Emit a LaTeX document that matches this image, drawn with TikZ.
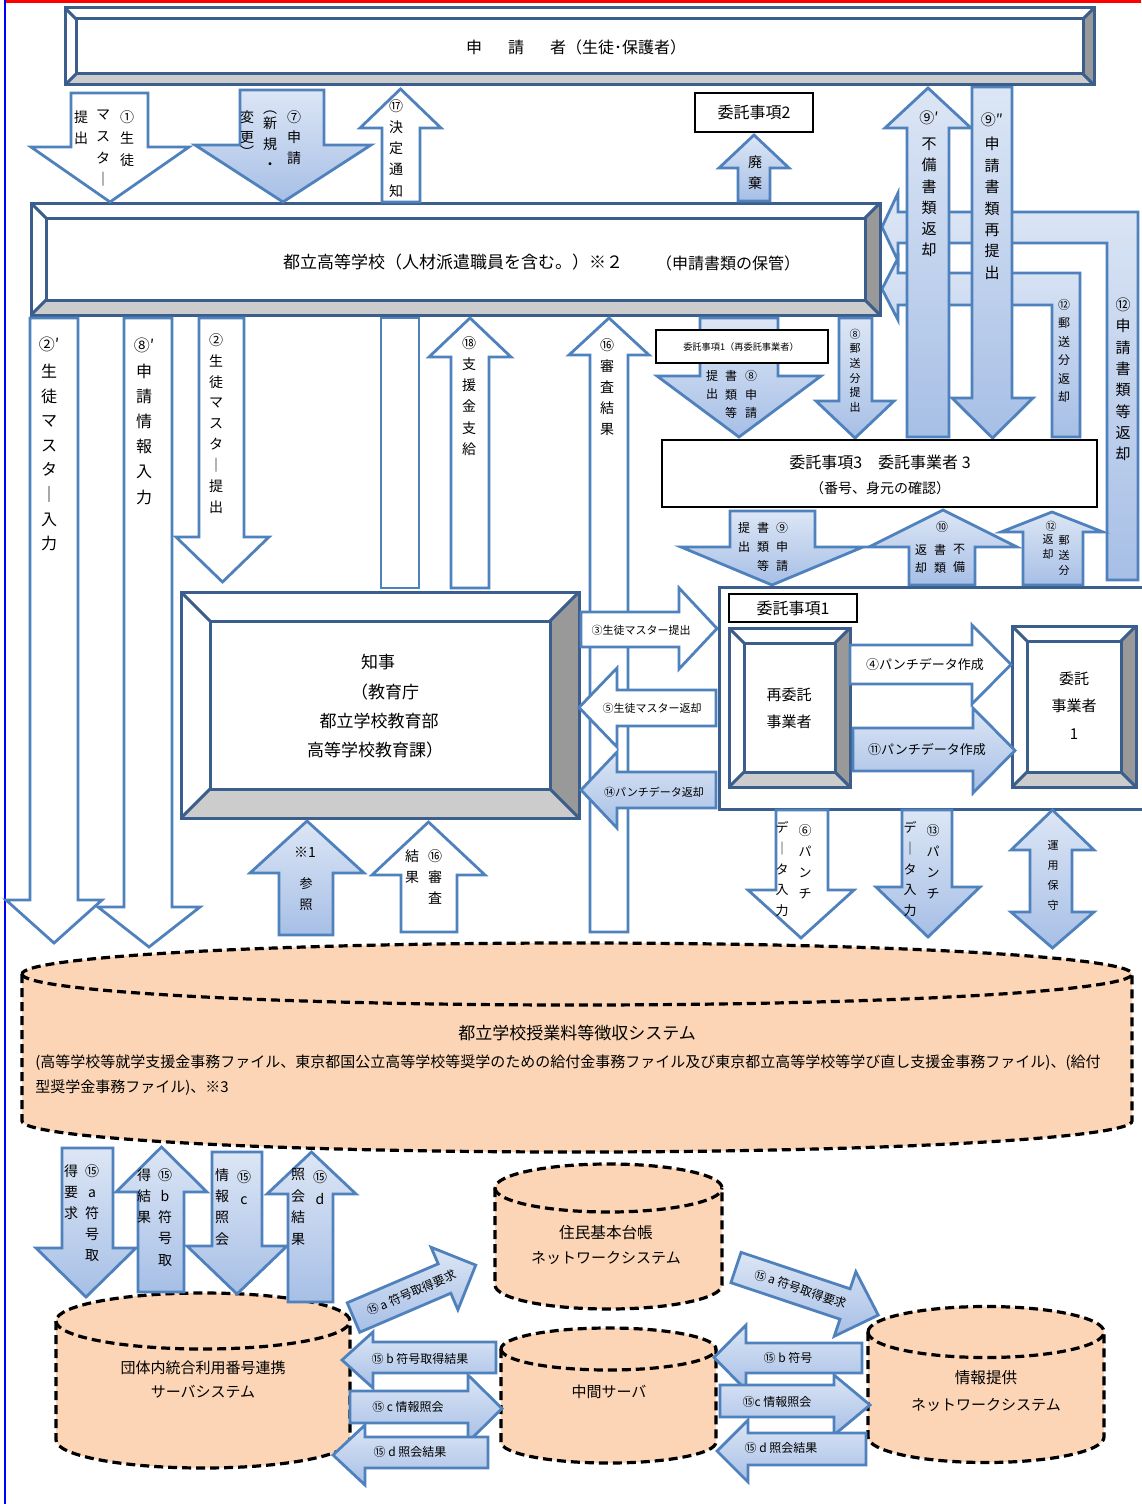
\documentclass[tikz,border=0pt]{standalone}
\usepackage{fontspec}
\setmainfont{Noto Sans CJK JP}
\definecolor{ablue}{HTML}{4F81BD}
\definecolor{bvline}{HTML}{3B5E8C}
\definecolor{bvdark}{HTML}{999999}
\definecolor{bvlight}{HTML}{CCCCCC}
\definecolor{gl}{HTML}{DCE6F5}
\definecolor{gd}{HTML}{A7BFE6}
\definecolor{peach}{HTML}{FBD5B5}
\newcounter{nd}
\newcommand{\myfs}[2]{\fontsize{#1}{#2}\selectfont}
\newcommand{\mvc}[5]{\stepcounter{nd}\node[vcol,font=\myfs{#3}{#4}] (v\arabic{nd}) at (#1,{#2-#3}) {#5};}
\newcommand{\mtx}[4]{\stepcounter{nd}\node[txt,font=\myfs{#3}{#3}] (t\arabic{nd}) at (#1,#2) {#4};}
% vertical block arrow: style, xL, xR, yTail, yHeadBase, hL, hR, yTip
\newcommand{\varrow}[8]{\path[#1] (#2,#4) -- (#2,#5) -- (#6,#5) -- ({(#6+#7)/2},#8) -- (#7,#5) -- (#3,#5) -- (#3,#4) -- cycle;}
% horizontal block arrow: style, yT, yB, xTail, xHeadBase, hT, hB, xTip
\newcommand{\harrow}[8]{\path[#1] (#4,#2) -- (#5,#2) -- (#5,#6) -- (#8,{(#6+#7)/2}) -- (#5,#7) -- (#5,#3) -- (#4,#3) -- cycle;}
% bevel box: x1 y1 x2 y2 inset
\newcommand{\bevel}[5]{%
 \fill[white] (#1,#2) rectangle (#3,#4);
 \fill[bvdark] (#3,#2) -- (#3,#4) -- ({#3-#5},{#4-#5}) -- ({#3-#5},{#2+#5}) -- cycle;
 \fill[bvlight] (#1,#4) -- (#3,#4) -- ({#3-#5},{#4-#5}) -- ({#1+#5},{#4-#5}) -- cycle;
 \draw[bvl] (#1,#2) rectangle (#3,#4);
 \draw[bvl] ({#1+#5},{#2+#5}) rectangle ({#3-#5},{#4-#5});
 \draw[bvl] (#1,#2) -- ({#1+#5},{#2+#5}) (#3,#2) -- ({#3-#5},{#2+#5})
   (#1,#4) -- ({#1+#5},{#4-#5}) (#3,#4) -- ({#3-#5},{#4-#5});}
% cylinder: xL xR yTopCenter yBottomCenter R(pt) r(pt)
\newcommand{\cyl}[6]{%
 \path[dbs] (#1,#3) -- (#1,#4) arc[start angle=180,end angle=360,x radius=#5pt,y radius=#6pt]
   -- (#2,#3) arc[start angle=0,end angle=180,x radius=#5pt,y radius=#6pt] -- cycle;
 \draw[dbl] (#1,#3) arc[start angle=180,end angle=360,x radius=#5pt,y radius=#6pt];}
\tikzset{
 vcol/.style={anchor=north,inner sep=0pt,align=center},
 txt/.style={inner sep=0pt,align=center},
 wa/.style={draw=ablue,line width=1.4pt,fill=white},
 ga/.style={draw=ablue,line width=1.4pt,top color=gl,bottom color=gd},
 bvl/.style={draw=bvline,line width=1.5pt,line join=miter},
 bbox/.style={draw=black,line width=1.3pt,fill=white},
 dbs/.style={fill=peach,draw=black,line width=1.6pt,dash pattern=on 4.5pt off 2.5pt},
 dbl/.style={draw=black,line width=1.6pt,dash pattern=on 4.5pt off 2.5pt},
}
\begin{document}
\begin{tikzpicture}[x=0.5pt,y=-0.5pt]
\useasboundingbox (0,0) rectangle (1141,1504);
\fill[white] (0,0) rectangle (1141,1504);
% page frame
\draw[red,line width=1.6pt] (5,1.5) -- (1141,1.5);
\draw[blue,line width=1.3pt] (5,0) -- (5,1504);

% databases
\cyl{22}{1132}{974}{1121}{277.5}{15.5}
\cyl{56}{350}{1321}{1440}{73.5}{14}
\cyl{495}{722}{1188}{1285}{56.75}{12}
\cyl{501}{716}{1349}{1442}{53.75}{10.5}
\cyl{868}{1104}{1332}{1437}{59}{12.75}

% return bands (12)
\path[ga] (1138,580) -- (1138,212) -- (898,212) -- (898,193) -- (882,227) -- (898,261) -- (898,243) -- (1107,243) -- (1107,580) -- cycle;
\path[ga] (1080,437) -- (1080,273) -- (898,273) -- (898,258) -- (882,289) -- (898,320) -- (898,305) -- (1052,305) -- (1052,437) -- cycle;
% 9' and 9''
\varrow{ga}{907}{949}{437}{128}{885}{971}{88}
\varrow{ga}{972}{1012}{87}{398}{952}{1033}{438}

% top box and school box
\bevel{65}{8}{1094}{85}{11}
\bevel{31}{203}{880}{315}{15}

% arrows between applicant and school
\varrow{wa}{71}{148}{93}{147}{31}{189}{202}
\varrow{ga}{240}{324}{90}{145}{195}{371}{202}
\varrow{wa}{382}{420}{202}{128}{360}{441}{89}
\varrow{ga}{738}{770}{201}{168}{719}{789}{135}
\draw[bbox] (695,93) rectangle (813,132);

% school -> below
\varrow{wa}{30}{78}{318}{900}{6}{102}{943}
\varrow{wa}{124}{172}{318}{907}{98}{200}{947}
\varrow{wa}{199}{244}{318}{537}{176}{269}{582}
\path[wa] (381,318) rectangle (419,588);
\varrow{wa}{451}{489}{588}{357}{429}{511}{318}
\varrow{wa}{590}{628}{932}{355}{569}{649}{318}
\varrow{ga}{700}{778}{318}{376}{657}{821}{437}
\draw[bbox,line width=1.1pt] (656,330) rectangle (828,363);
\varrow{ga}{839}{872}{318}{401}{816}{894}{438}

% entrust 3
\draw[bbox] (662,440) rectangle (1097,507);
\varrow{ga}{730}{815}{511}{547}{681}{863}{585}
\varrow{ga}{909}{975}{585}{547}{869}{1017}{510}
\varrow{ga}{1023}{1083}{585}{532}{1001}{1103}{512}

% governor box
\bevel{181}{592}{579}{818}{29}

% horizontal arrows between governor and entrust 1
\harrow{wa}{612}{647}{581}{679}{588}{669}{717}
\harrow{wa}{690}{726}{716}{617}{668}{747}{579}
\harrow{ga}{772}{808}{716}{617}{752}{828}{581}

% entrust 1 group
\draw[draw=bvline,line width=1.5pt] (1150,587) -- (719,587) -- (719,809) -- (1150,809);
\draw[bbox] (729,594) rectangle (857,622);
\bevel{729}{628}{850}{787}{15}
\bevel{1012}{626}{1136}{787}{15}
\harrow{wa}{645}{684}{850}{972}{625}{704}{1011}
\harrow{ga}{728}{771}{853}{973}{708}{793}{1015}

% below entrust 1
\varrow{wa}{776}{828}{810}{890}{748}{854}{938}
\varrow{ga}{902}{952}{810}{887}{876}{980}{937}
\path[ga] (1030,850) -- (1011,850) -- (1052.5,810) -- (1094,850) -- (1072,850) -- (1072,912) -- (1094,912) -- (1052.5,948) -- (1011,912) -- (1030,912) -- cycle;

% below governor
\varrow{ga}{279}{333}{935}{873}{250}{364}{821}
\varrow{wa}{401}{457}{932}{875}{372}{485}{822}

% (15) arrows
\varrow{ga}{62}{113}{1148}{1248}{36}{136}{1297}
\varrow{ga}{138}{184}{1292}{1192}{116}{207}{1147}
\varrow{ga}{212}{262}{1152}{1246}{187}{287}{1294}
\varrow{ga}{288}{333}{1302}{1194}{267}{356}{1152}
\harrow{ga}{1342}{1373}{496}{373}{1332}{1388}{342}
\harrow{ga}{1391}{1423}{350}{468}{1375}{1442}{502}
\harrow{ga}{1437}{1468}{488}{365}{1425}{1485}{333}
\harrow{ga}{1343}{1373}{862}{746}{1325}{1390}{714}
\harrow{ga}{1385}{1417}{720}{834}{1375}{1435}{870}
\harrow{ga}{1433}{1465}{866}{748}{1420}{1482}{717}
\begin{scope}[shift={(353.5,1317.5)},rotate=23.2]
\harrow{ga}{-16}{16}{0}{99}{-34}{34}{133}
\node[txt,font=\myfs{6}{6},rotate=23.2] (d1) at (63,0) {⑮ a 符号取得要求};
\end{scope}
\begin{scope}[shift={(736,1267.5)},rotate=-18.5]
\harrow{ga}{-16}{16}{0}{115}{-34}{34}{150}
\node[txt,font=\myfs{6}{6},rotate=-18.5] (d2) at (68,0) {⑮ a 符号取得要求};
\end{scope}

% ---------- texts ----------
\mtx{576}{47}{8}{申\hspace{13pt}請\hspace{13pt}者（生徒･保護者）}
\mtx{453}{262}{8.5}{都立高等学校（人材派遣職員を含む。）※２}
\mtx{728}{263}{8}{（申請書類の保管）}
\mtx{754}{112}{8}{委託事項2}
% 1
\mvc{127}{117}{7}{10.8}{①\\生\\徒}
\mvc{103}{117}{7}{10.8}{マ\\ス\\タ\\｜}
\mvc{81}{117}{7}{10.8}{提\\出}
% 7
\mvc{294}{117}{7}{10.3}{⑦\\申\\請}
\mvc{270}{118}{7}{10.3}{︵\\[-3pt]新\\規\\・}
\mvc{247}{117}{7}{10.3}{変\\更\\[-3pt]︶}
% 17
\mvc{396}{106}{7}{10.6}{⑰\\決\\定\\通\\知}
\mvc{755}{162}{7}{10.5}{廃\\棄}
\mvc{929}{118}{7.5}{10.6}{⑨′\\[2.5pt]不\\備\\書\\類\\返\\却}
\mvc{992}{120}{7.5}{10.7}{⑨″\\[1.5pt]申\\請\\書\\類\\再\\提\\出}
% left columns
\mvc{49}{345}{8}{12.3}{②′\\[1pt]生\\徒\\マ\\ス\\タ\\｜\\入\\力}
\mvc{144}{346}{8}{12.6}{⑧′\\申\\請\\情\\報\\入\\力}
\mvc{216}{340}{7}{10.45}{②\\生\\徒\\マ\\ス\\タ\\｜\\提\\出}
\mvc{469}{343}{7}{10.6}{⑱\\支\\援\\金\\支\\給}
\mvc{607}{345}{7}{10.5}{⑯\\審\\査\\結\\果}
\mtx{741}{347}{4.6}{委託事項1（再委託事業者）}
\mvc{751}{376}{6}{9.25}{⑧\\申\\請}
\mvc{731}{376}{6}{9.25}{書\\類\\等}
\mvc{712}{376}{6}{9.25}{提\\出}
\mvc{855}{334}{5.5}{7.3}{⑧\\郵\\送\\分\\提\\出}
\mvc{1064}{305}{6}{9.2}{⑫\\郵\\送\\分\\返\\却}
\mvc{1123}{305}{7.5}{10.65}{⑫\\申\\請\\書\\類\\等\\返\\却}
% entrust 3
\mtx{880}{462}{8}{委託事項3\hspace{8pt}委託事業者 3}
\mtx{880}{488}{7}{（番号、身元の確認）}
\mvc{782}{528}{6}{9.5}{⑨\\申\\請}
\mvc{763}{528}{6}{9.5}{書\\類\\等}
\mvc{744}{528}{6}{9.5}{提\\出}
\mtx{942}{527}{6}{⑩}
\mvc{959}{550}{6}{9}{不\\備}
\mvc{940}{550}{6}{9}{書\\類}
\mvc{921}{550}{6}{9}{返\\却}
\mtx{1051}{526}{5.5}{⑫}
\mvc{1064}{540}{5.5}{7.5}{郵\\送\\分}
\mvc{1048}{540}{5.5}{7.5}{返\\却}
% governor
\mtx{378}{662}{8.5}{知事}
\mtx{385}{692}{8.5}{（教育庁}
\mtx{379}{721}{8.5}{都立学校教育部}
\mtx{375}{750}{8.5}{高等学校教育課）}
\mtx{641}{630}{5.5}{③生徒マスター提出}
\mtx{652}{708}{5.5}{⑤生徒マスター返却}
\mtx{654}{792}{5.5}{⑭パンチデータ返却}
% entrust 1
\mtx{793}{608}{8}{委託事項1}
\mtx{789}{695}{7.5}{再委託}
\mtx{789}{722}{7.5}{事業者}
\mtx{1074}{679}{7.5}{委託}
\mtx{1074}{706}{7.5}{事業者}
\mtx{1074}{734}{7.5}{1}
\mtx{925}{665}{6.5}{④パンチデータ作成}
\mtx{927}{750}{6.5}{⑪パンチデータ作成}
\mvc{805}{831}{6.5}{10.5}{⑥\\パ\\ン\\チ}
\mvc{782}{828}{6.5}{10.3}{デ\\｜\\タ\\入\\力}
\mvc{933}{831}{6.5}{10.5}{⑬\\パ\\ン\\チ}
\mvc{910}{828}{6.5}{10.3}{デ\\｜\\タ\\入\\力}
\mvc{1053}{846}{5.5}{10}{運\\用\\保\\守}
\mtx{305}{852}{7}{※1}
\mvc{306}{884}{6.5}{10.5}{参\\照}
\mvc{435}{856}{7}{10.5}{⑯\\審\\査}
\mvc{412}{856}{7}{10.5}{結\\果}
% database text
\mtx{577}{1033}{8.5}{都立学校授業料等徴収システム}
\node[anchor=north west,inner sep=0pt,align=left,font=\myfs{7.5}{12.5}] (para) at (35,{1062-7.5}) {(高等学校等就学支援金事務ファイル、東京都国公立高等学校等奨学のための給付金事務ファイル及び東京都立高等学校等学び直し支援金事務ファイル)、(給付\\型奨学金事務ファイル)、※3};
% (15) texts
\mvc{92}{1171}{7}{10.5}{⑮\\a\\符\\号\\取}
\mvc{71}{1171}{7}{10.5}{得\\要\\求}
\mvc{165}{1175}{7}{10.6}{⑮\\b\\符\\号\\取}
\mvc{144}{1175}{7}{10.6}{得\\結\\果}
\mvc{244}{1177}{7}{11}{⑮\\c}
\mvc{222}{1175}{7}{10.7}{情\\報\\照\\会}
\mvc{320}{1177}{7}{11}{⑮\\d}
\mvc{298}{1175}{7}{10.8}{照\\会\\結\\果}
\mtx{203}{1368}{7.5}{団体内統合利用番号連携}
\mtx{203}{1392}{7.5}{サーバシステム}
\mtx{606}{1233}{7.8}{住民基本台帳}
\mtx{606}{1258}{7.5}{ネットワークシステム}
\mtx{609}{1392}{7.5}{中間サーバ}
\mtx{986}{1378}{7.8}{情報提供}
\mtx{986}{1405}{7.5}{ネットワークシステム}
\mtx{420}{1359}{6}{⑮ b 符号取得結果}
\mtx{408}{1407}{6}{⑮ c 情報照会}
\mtx{410}{1452}{6}{⑮ d 照会結果}
\mtx{788}{1358}{6}{⑮ b 符号}
\mtx{777}{1402}{6}{⑮c 情報照会}
\mtx{781}{1448}{6}{⑮ d 照会結果}
\end{tikzpicture}
\end{document}
